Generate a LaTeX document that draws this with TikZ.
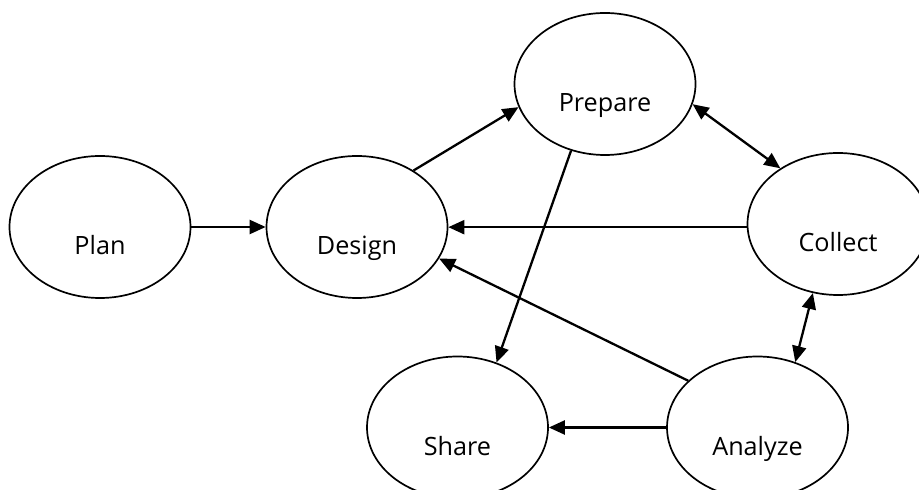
\documentclass[tikz,border=0pt]{standalone}
\usepackage{fontspec}
\setmainfont{Open Sans}
\usetikzlibrary{shapes.geometric,arrows.meta}
\begin{document}
\begin{tikzpicture}[x=0.5pt,y=-0.5pt,
                    line width=0.85pt,
                    >={Triangle[length=8pt,width=7pt]}]
    \tikzstyle{stage}=[ellipse,draw,minimum width=90.5pt,minimum height=71pt,
                       text height=28pt,text depth=0pt,font=\fontsize{12.6}{15}\selectfont]
    \tikzstyle{flow}=[line width=1.15pt]

    \useasboundingbox (0,0) rectangle (919,490);
    \clip (0,0) rectangle (919,490);

    \node[stage] (plan)    at (100,227)   {Plan};
    \node[stage] (design)  at (357,227)   {Design};
    \node[stage] (prepare) at (605,84)    {Prepare};
    \node[stage] (collect) at (838,224)   {Collect};
    \node[stage] (share)   at (457.5,427.5) {Share};
    \node[stage] (analyze) at (757.5,427.5) {Analyze};

    \draw[flow,->] (plan) -- (design);
    \draw[flow,->] (design.45) -- (prepare.195);
    \draw[flow,<->] (prepare.347) -- (collect.136);
    \draw[flow,->] (collect.182) -- (collect.182 -| design.east);
    \draw[flow,->] (prepare.243) -- (share.59);
    \draw[flow,<->] (collect.250) -- (analyze.60);
    \draw[flow,->] (analyze.146) -- (design.339);
    \draw[flow,->] (analyze) -- (share);

\end{tikzpicture}
\end{document}
